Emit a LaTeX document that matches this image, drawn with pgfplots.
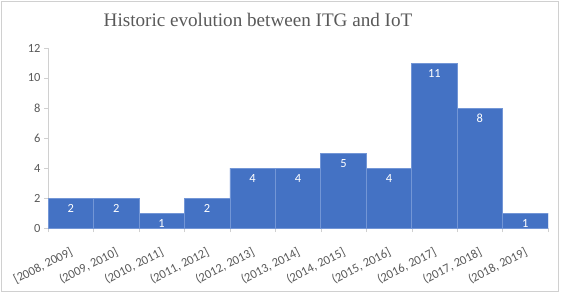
\documentclass[border=0pt]{standalone}
\usepackage{pgfplots}
\pgfplotsset{compat=1.18}
\usepackage{fontspec}
\setmainfont{Carlito}
\newfontfamily\titlefont{Liberation Serif}
\definecolor{barblue}{HTML}{4472C4}
\definecolor{baredge}{HTML}{7396D6}
\definecolor{txtgray}{HTML}{595959}
\definecolor{axgray}{HTML}{D0D0D0}
\begin{document}
\begin{tikzpicture}[x=1bp,y=1bp]
\useasboundingbox (0,0) rectangle (562,295);
\draw[axgray] (1.5,3.5) rectangle (558.5,293.5);
\node[text=txtgray, font=\titlefont\fontsize{19.2}{21}\selectfont, anchor=base] at (258,269) {Historic evolution between ITG and IoT};
\begin{axis}[
  at={(48bp,67bp)}, anchor=south west,
  scale only axis, width=500bp, height=180bp,
  xmin=0, xmax=11, ymin=0, ymax=12,
  /pgf/number format/assume math mode=true,
  ytick={0,2,...,12},
  xtick={0.5,1.5,...,10.5},
  xticklabels={{[2008, 2009]},{(2009, 2010]},{(2010, 2011]},{(2011, 2012]},{(2012, 2013]},{(2013, 2014]},{(2014, 2015]},{(2015, 2016]},{(2016, 2017]},{(2017, 2018]},{(2018, 2019]}},
  minor xtick={0,1,...,11},
  major x tick style={draw=none},
  minor x tick style={axgray},
  axis x line*=bottom, axis y line*=left,
  axis line style={axgray},
  tick align=outside,
  tick style={axgray},
  major tick length=4bp, minor tick length=4bp,
  x tick label style={yshift=-13bp, xshift=-1bp, rotate=27, anchor=north east, font=\fontsize{12.5}{13}\selectfont, text=txtgray, inner sep=1bp},
  y tick label style={font=\fontsize{12.5}{13}\selectfont, text=txtgray},
  ybar, bar width=1,
  nodes near coords,
  every node near coord/.append style={anchor=north, text=white, font=\fontsize{12.5}{13}\selectfont, yshift=-2.5bp},
]
\addplot[fill=barblue, draw=baredge, line width=0.6bp] coordinates {
(0.5,2) (1.5,2) (2.5,1) (3.5,2) (4.5,4) (5.5,4) (6.5,5) (7.5,4) (8.5,11) (9.5,8) (10.5,1)
};
\end{axis}
\end{tikzpicture}
\end{document}
